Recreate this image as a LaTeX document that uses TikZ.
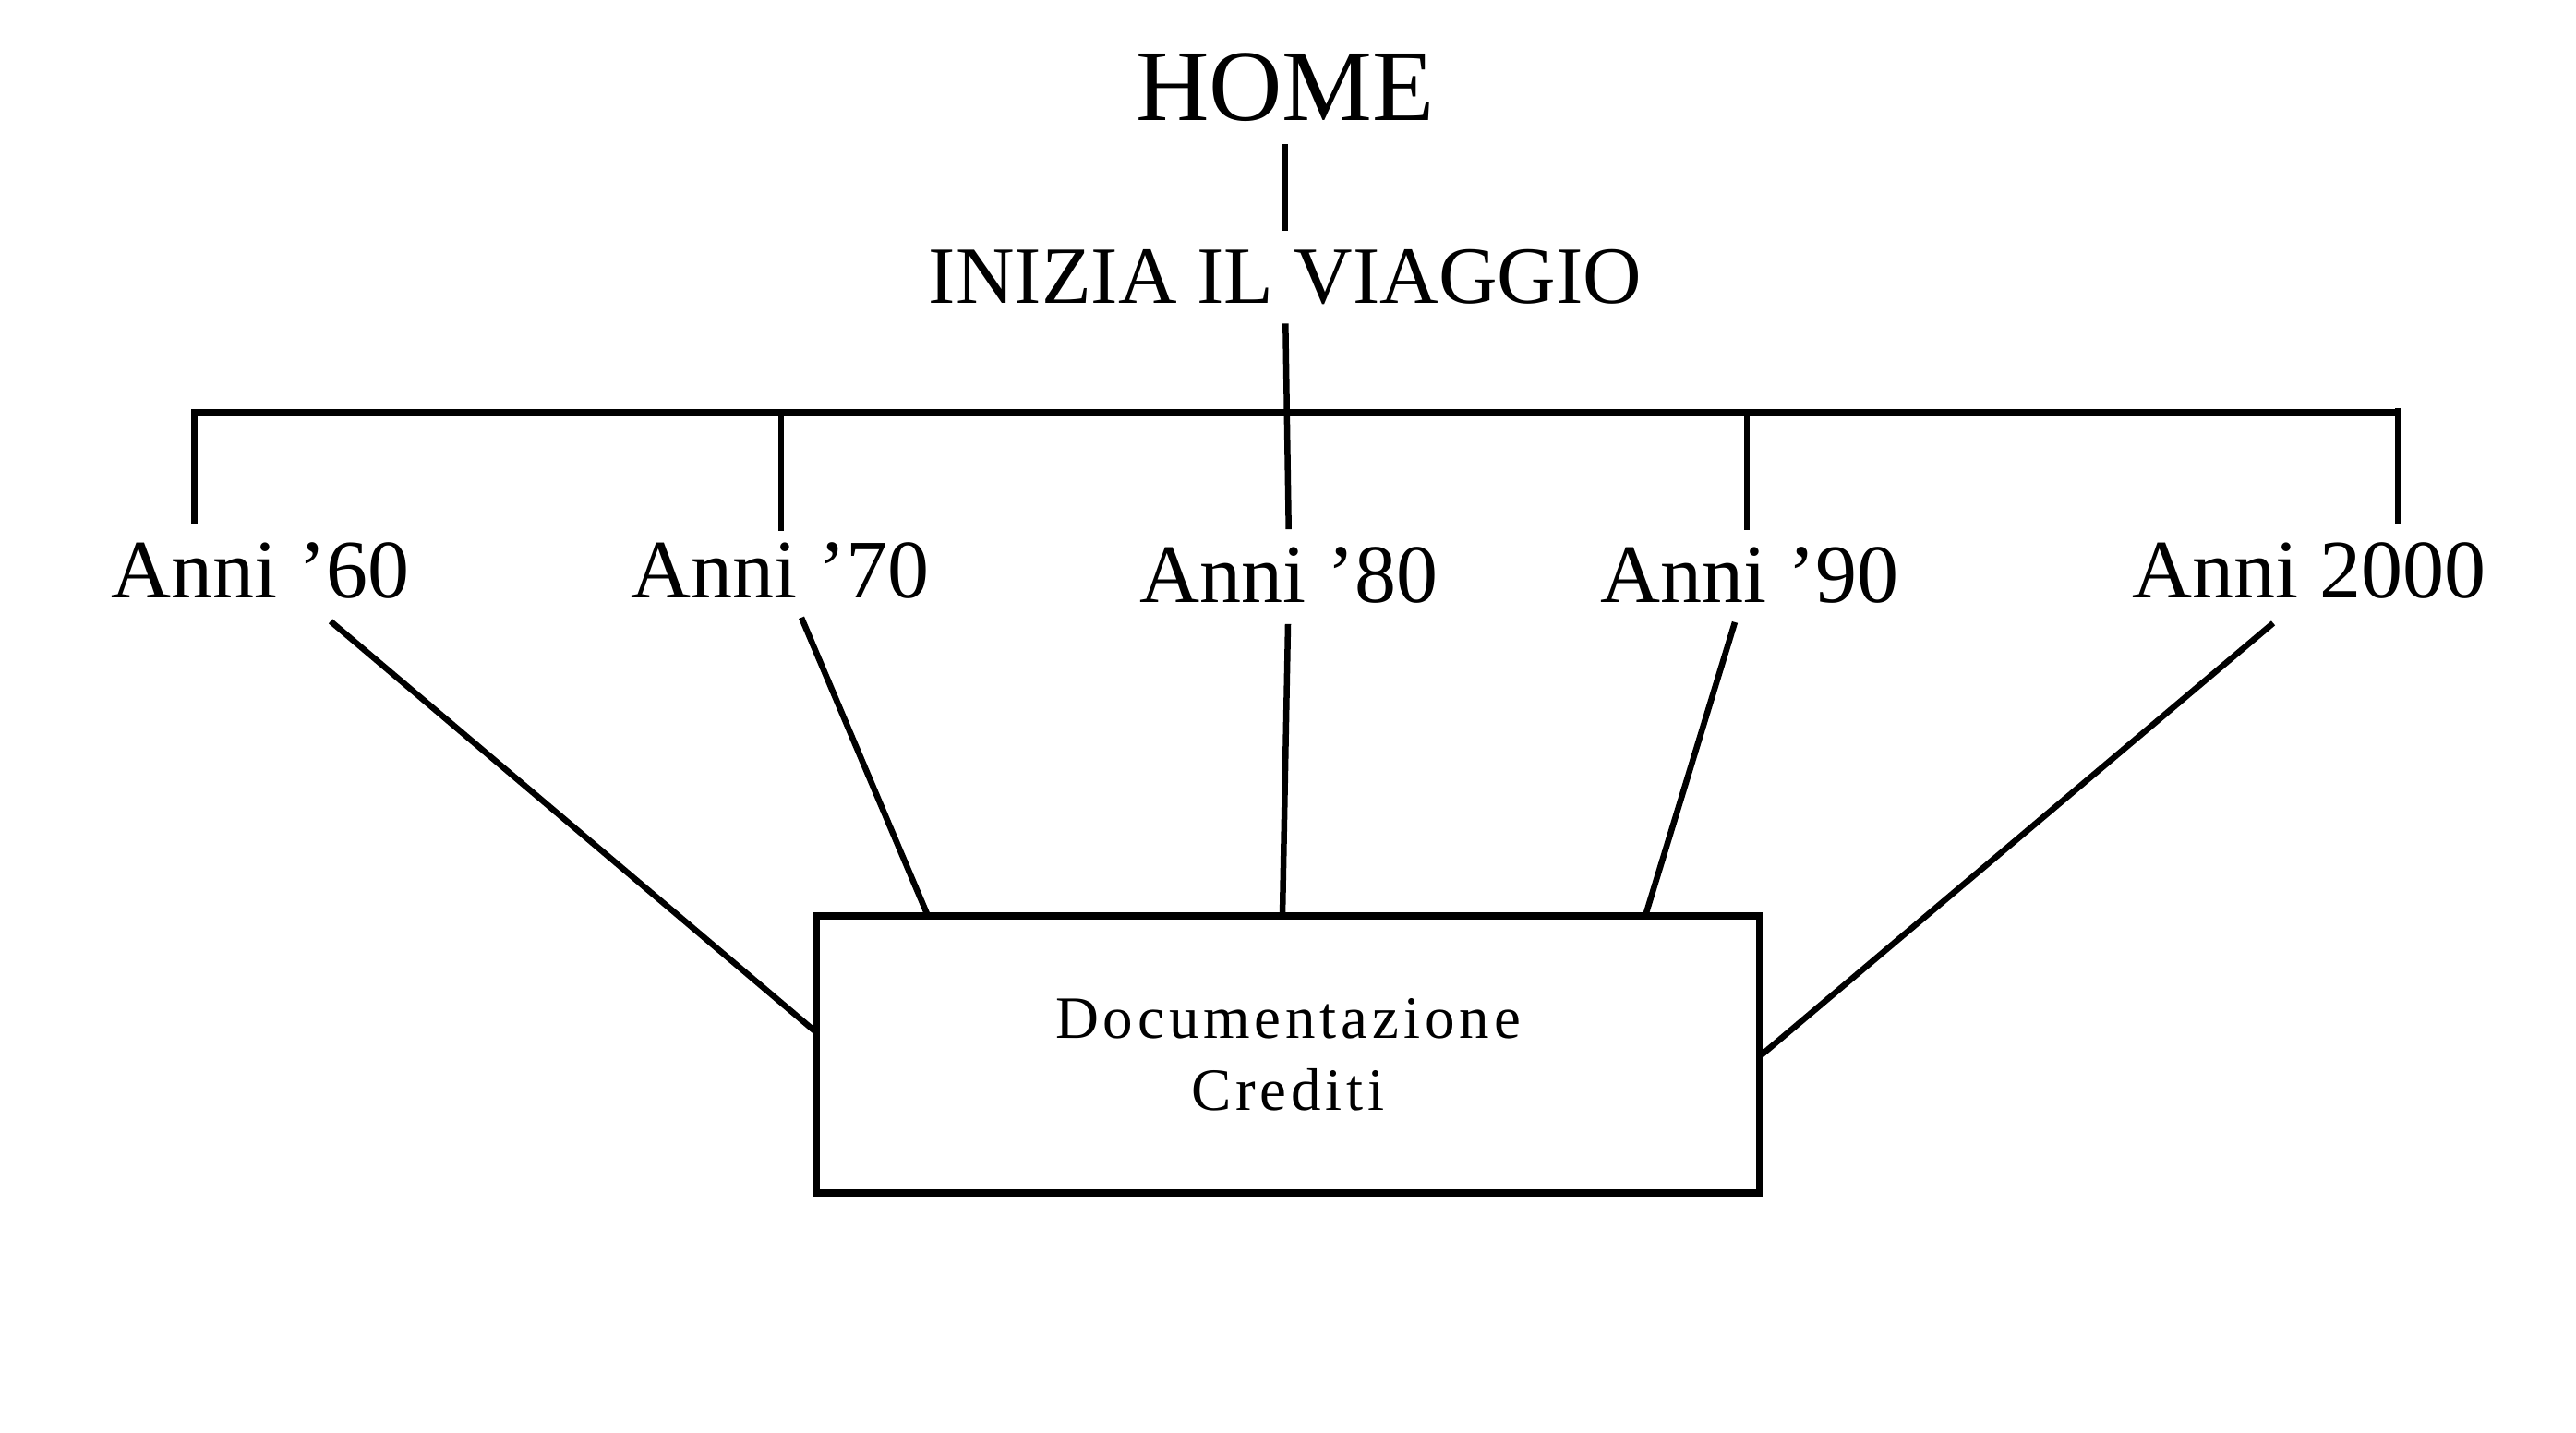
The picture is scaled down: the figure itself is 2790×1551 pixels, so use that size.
\documentclass[tikz,border=0pt]{standalone}
\usepackage{fontspec}
\setmainfont{Liberation Serif}
\newfontfamily\boxfont[LetterSpace=7.5]{Liberation Serif}
\usetikzlibrary{calc}
\begin{document}
\begin{tikzpicture}[x=1pt,y=-1pt,
  lbl/.style={inner sep=0pt,outer sep=0pt,anchor=base},
  homefont/.style={font=\fontsize{110}{130}\selectfont},
  titlefont/.style={font=\fontsize{88}{100}\selectfont},
  annifont/.style={font=\fontsize{90}{100}\selectfont},
  conn/.style={line width=6.5pt,black},
  busline/.style={line width=8pt,black},
  boxnode/.style={draw,line width=7.5pt,inner sep=0pt,outer sep=0pt,
    minimum width=1022pt,minimum height=300pt,align=center,
    font=\boxfont\fontsize{65}{78}\selectfont}
]
\fill[white] (0,0) rectangle (2790,1551);
\useasboundingbox (0,0) rectangle (2790,1551);

% nodes
\node[lbl,homefont] (home) at (1392,130) {HOME};
\node[lbl,titlefont] (inizia) at (1392,328) {INIZIA IL VIAGGIO};
\node[lbl,annifont] (a60) at (282,647) {Anni ’60};
\node[lbl,annifont] (a70) at (845,647) {Anni ’70};
\node[lbl,annifont] (a80) at (1396,652) {Anni ’80};
\node[lbl,annifont] (a90) at (1895,652) {Anni ’90};
\node[lbl,annifont] (a2000) at (2501,647) {Anni 2000};
\node[boxnode] (box) at (1395,1142) {Documentazione\\Crediti};

% bus
\coordinate (busL) at (207,447);
\coordinate (busR) at (2594,447);
\coordinate (b60) at (210.5,447);
\coordinate (b70) at (846,447);
\coordinate (b90) at (1892,447);
\coordinate (b2000) at (2597,442);
\draw[busline] (busL) -- (busR);

% home -> inizia -> anni '80
\draw[conn,shorten <=25pt,shorten >=20pt] (home.south) -- (inizia.north);
\draw[conn,shorten <=21pt,shorten >=19pt] (inizia.south) -- (a80.north);

% bus verticals
\draw[conn,shorten >=19pt] (b60) -- (b60 |- a60.north);
\draw[conn,shorten >=12pt] (b70) -- (b70 |- a70.north);
\draw[conn,shorten >=18pt] (b90) -- (b90 |- a90.north);
\draw[conn,shorten >=19pt] (b2000) -- (b2000 |- a2000.north);

% decades -> box
\draw[conn] ([xshift=76pt,yshift=-25pt]a60.south) -- ([yshift=24pt]box.west);
\draw[conn] ([xshift=23pt,yshift=-21pt]a70.south) -- ([xshift=121pt]box.north west);
\draw[conn] ([xshift=-1pt,yshift=-23pt]a80.south) -- ([xshift=505pt]box.north west);
\draw[conn] ([xshift=-16pt,yshift=-21pt]a90.south) -- ([xshift=898pt]box.north west);
\draw[conn] ([xshift=-39pt,yshift=-27pt]a2000.south) -- ([yshift=-2pt]box.east);
\end{tikzpicture}
\end{document}
